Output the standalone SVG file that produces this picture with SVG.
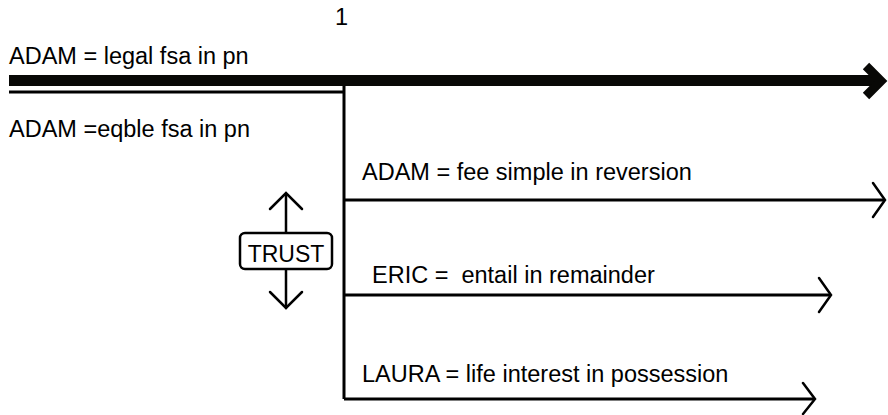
<svg xmlns="http://www.w3.org/2000/svg" width="888" height="415" viewBox="0 0 888 415">
<style>
text{font-family:"Liberation Sans",Arial,Helvetica,sans-serif;font-size:23.5px;fill:#000;white-space:pre}
.ln{stroke:#000;stroke-width:3;fill:none}
.thin{stroke:#000;stroke-width:2.5;fill:none;stroke-linecap:round;stroke-linejoin:miter}
.thick{stroke:#080806;stroke-width:11;fill:none}
.chev{stroke:#080806;stroke-width:9;fill:none;stroke-linejoin:miter;stroke-miterlimit:10}
</style>
<rect width="888" height="415" fill="#fff"/>
<g id="connectors">
  <line class="thick" x1="9" y1="80.5" x2="878" y2="80.5"/>
  <polyline class="chev" points="866,66 881,81 866,96"/>
  <line class="ln" x1="9" y1="92" x2="344" y2="92"/>
  <line class="ln" x1="344" y1="86" x2="344" y2="399"/>
  <line class="ln" x1="344" y1="200" x2="884" y2="200"/>
  <polyline class="thin" points="873,183 885,200 873,217"/>
  <line class="ln" x1="344" y1="295" x2="830" y2="295"/>
  <polyline class="thin" points="819,278 831,295 819,312"/>
  <line class="ln" x1="344" y1="399" x2="814" y2="399"/>
  <polyline class="thin" points="803,383 815,399 803,414"/>
  <line class="thin" x1="286" y1="194" x2="286" y2="233"/>
  <polyline class="thin" points="270,209 286,193 302,209"/>
  <line class="thin" x1="286" y1="269" x2="286" y2="308"/>
  <polyline class="thin" points="270,292 286,308 302,292"/>
</g>
<g id="label-1"><text x="335" y="25">1</text></g>
<g id="legal"><text x="9" y="64">ADAM = legal fsa in pn</text></g>
<g id="equitable"><text x="9" y="137">ADAM =eqble fsa in pn</text></g>
<g id="trust">
  <rect x="240" y="233" width="92" height="36" rx="5" ry="5" fill="#fff" stroke="#000" stroke-width="2.5"/>
  <text x="286" y="262" text-anchor="middle" style="font-size:23px">TRUST</text>
</g>
<g id="adam-reversion"><text x="362" y="180">ADAM = fee simple in reversion</text></g>
<g id="eric-remainder"><text x="372" y="283">ERIC =  entail in remainder</text></g>
<g id="laura-possession"><text x="362" y="382">LAURA = life interest in possession</text></g>
</svg>
